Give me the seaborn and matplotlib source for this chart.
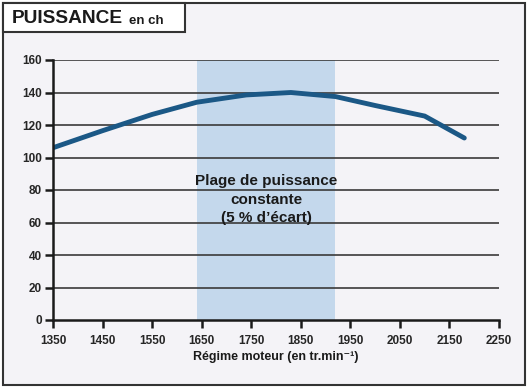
import matplotlib
matplotlib.use("Agg")
import matplotlib.pyplot as plt
import seaborn as sns
import pandas as pd
from matplotlib.patches import Rectangle

# Data
regime = [1350, 1450, 1550, 1640, 1740, 1830, 1920, 2000, 2100, 2180]
puissance = [106, 116.5, 126.5, 134, 138.5, 140, 137.5, 132, 125.5, 112]
plage_debut = 1640
plage_fin = 1920
xticks = [1350, 1450, 1550, 1650, 1750, 1850, 1950, 2050, 2150, 2250]
yticks = [0, 20, 40, 60, 80, 100, 120, 140, 160]
titre = "PUISSANCE"
unite = "en ch"
xlabel = "Régime moteur (en tr.min⁻¹)"
plage_texte = "Plage de puissance\nconstante\n(5 % d’écart)"

sns.set_theme(style="white")
plt.rcParams['font.family'] = ['Liberation Sans', 'DejaVu Sans']

W, H = 529, 388
fig = plt.figure(figsize=(W / 100, H / 100), dpi=100)
fig.patch.set_facecolor("white")

bg = "#f4f3f7"
# outer frame
fig.patches.append(Rectangle((3 / W, 1 - 385 / H), 522 / W, 382 / H, transform=fig.transFigure,
                             facecolor=bg, edgecolor="#333333", linewidth=1.5, zorder=-10))
# title box
fig.patches.append(Rectangle((3 / W, 1 - 32 / H), 182 / W, 29 / H, transform=fig.transFigure,
                             facecolor="white", edgecolor="#333333", linewidth=1.5, zorder=-9))
fig.text(12 / W, 1 - 18.5 / H, titre, fontsize=13.8, fontweight="bold", color="#1a1a1a",
         va="center", ha="left")
fig.text(129 / W, 1 - 20.5 / H, unite, fontsize=9.5, fontweight="bold", color="#1a1a1a",
         va="center", ha="left")

ax = fig.add_axes([53 / W, 1 - 320 / H, 446 / W, 260 / H])
ax.set_facecolor("none")
ax.set_zorder(1)

ax.axvspan(plage_debut, plage_fin, color="#c4d8ec", zorder=0, lw=0)
for yv in yticks[1:]:
    ax.axhline(yv, color="#3a3a3a", lw=1.2, zorder=1)

df = pd.DataFrame({"regime": regime, "puissance": puissance})
sns.lineplot(data=df, x="regime", y="puissance", ax=ax, color="#1b5886", lw=3.5,
             zorder=3, solid_joinstyle="miter")

ax.text((plage_debut + plage_fin) / 2, 74, plage_texte, ha="center", va="center",
        fontsize=11, fontweight="bold", color="#1a1a1a", linespacing=1.42, zorder=4)

ax.set_xlim(1350, 2250)
ax.set_ylim(0, 160)
ax.set_xticks(xticks)
ax.set_yticks(yticks)
ax.set_xticklabels([str(v) for v in xticks], fontsize=8.5, fontweight="bold")
ax.set_yticklabels([str(v) for v in yticks], fontsize=8.5, fontweight="bold")
ax.tick_params(axis="x", direction="out", length=6, width=1.8, color="#1a1a1a", pad=5,
               bottom=True)
ax.tick_params(axis="y", direction="out", length=6, width=1.8, color="#1a1a1a", pad=2,
               left=True)
ax.set_xlabel(xlabel, fontsize=9, fontweight="bold", color="#1a1a1a", labelpad=3)
ax.set_ylabel("")
for s in ["top", "right"]:
    ax.spines[s].set_visible(False)
for s in ["left", "bottom"]:
    ax.spines[s].set_color("#1a1a1a")
    ax.spines[s].set_linewidth(1.8)
    ax.spines[s].set_zorder(5)
ax.grid(False)

fig.savefig("out.png", dpi=100, facecolor="white")
